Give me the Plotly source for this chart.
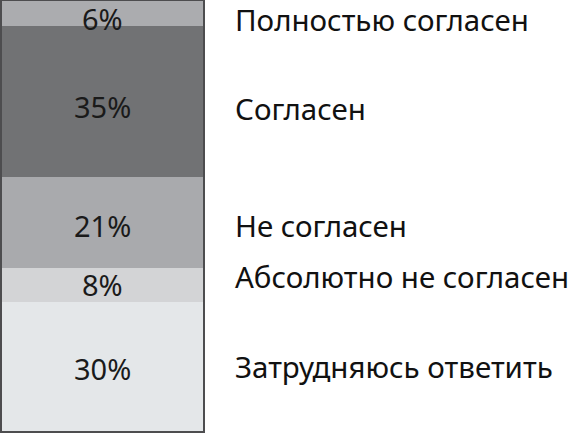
import plotly.graph_objects as go

# Data (top to bottom in the picture)
categories = ["Полностью согласен", "Согласен", "Не согласен", "Абсолютно не согласен", "Затрудняюсь ответить"]
values = [6, 35, 21, 8, 30]
colors = ["#abacaf", "#717274", "#a9aaad", "#d3d4d6", "#e4e7e9"]
# vertical nudges in pixels (up positive)
side_shift_px = [-7, -7, -3, 9, 1]
pct_shift_px = [-6, -5, -3, 1, -1]

FONT = "Noto Sans"

fig = go.Figure()
order = list(range(len(values)))[::-1]  # stack from the bottom
for i in order:
    fig.add_trace(go.Bar(
        x=[0], y=[values[i]],
        marker=dict(color=colors[i], line=dict(width=0)),
        hoverinfo="skip", showlegend=False,
    ))

cum = 0
centres = {}
for i in order:
    centres[i] = cum + values[i] / 2
    cum += values[i]

annotations = []
for i, name in enumerate(categories):
    annotations.append(dict(
        x=0, xref="x", y=centres[i], yref="y",
        text=f"{values[i]}%", showarrow=False, xanchor="center", yanchor="middle",
        yshift=pct_shift_px[i],
        font=dict(family=FONT, size=29, color="#1a1a1a"),
    ))
    annotations.append(dict(
        x=1.146, xref="paper", y=centres[i], yref="y",
        text=name, showarrow=False, xanchor="left", yanchor="middle",
        yshift=side_shift_px[i], borderpad=0,
        font=dict(family=FONT, size=29.5, color="#111111"),
    ))

fig.update_layout(
    width=570, height=433,
    margin=dict(l=1, r=366, t=0, b=1),
    barmode="stack", bargap=0,
    paper_bgcolor="white", plot_bgcolor="white",
    xaxis=dict(visible=False, range=[-0.5, 0.5]),
    yaxis=dict(visible=False, range=[0, sum(values)]),
    annotations=annotations,
    shapes=[dict(type="rect", xref="paper", yref="paper", x0=0, x1=1, y0=0, y1=1,
                 line=dict(color="#4d4d4f", width=2), layer="above")],
)

fig.write_html("out.html", config={"displayModeBar": False},
               post_script="document.body.style.margin='0';")
